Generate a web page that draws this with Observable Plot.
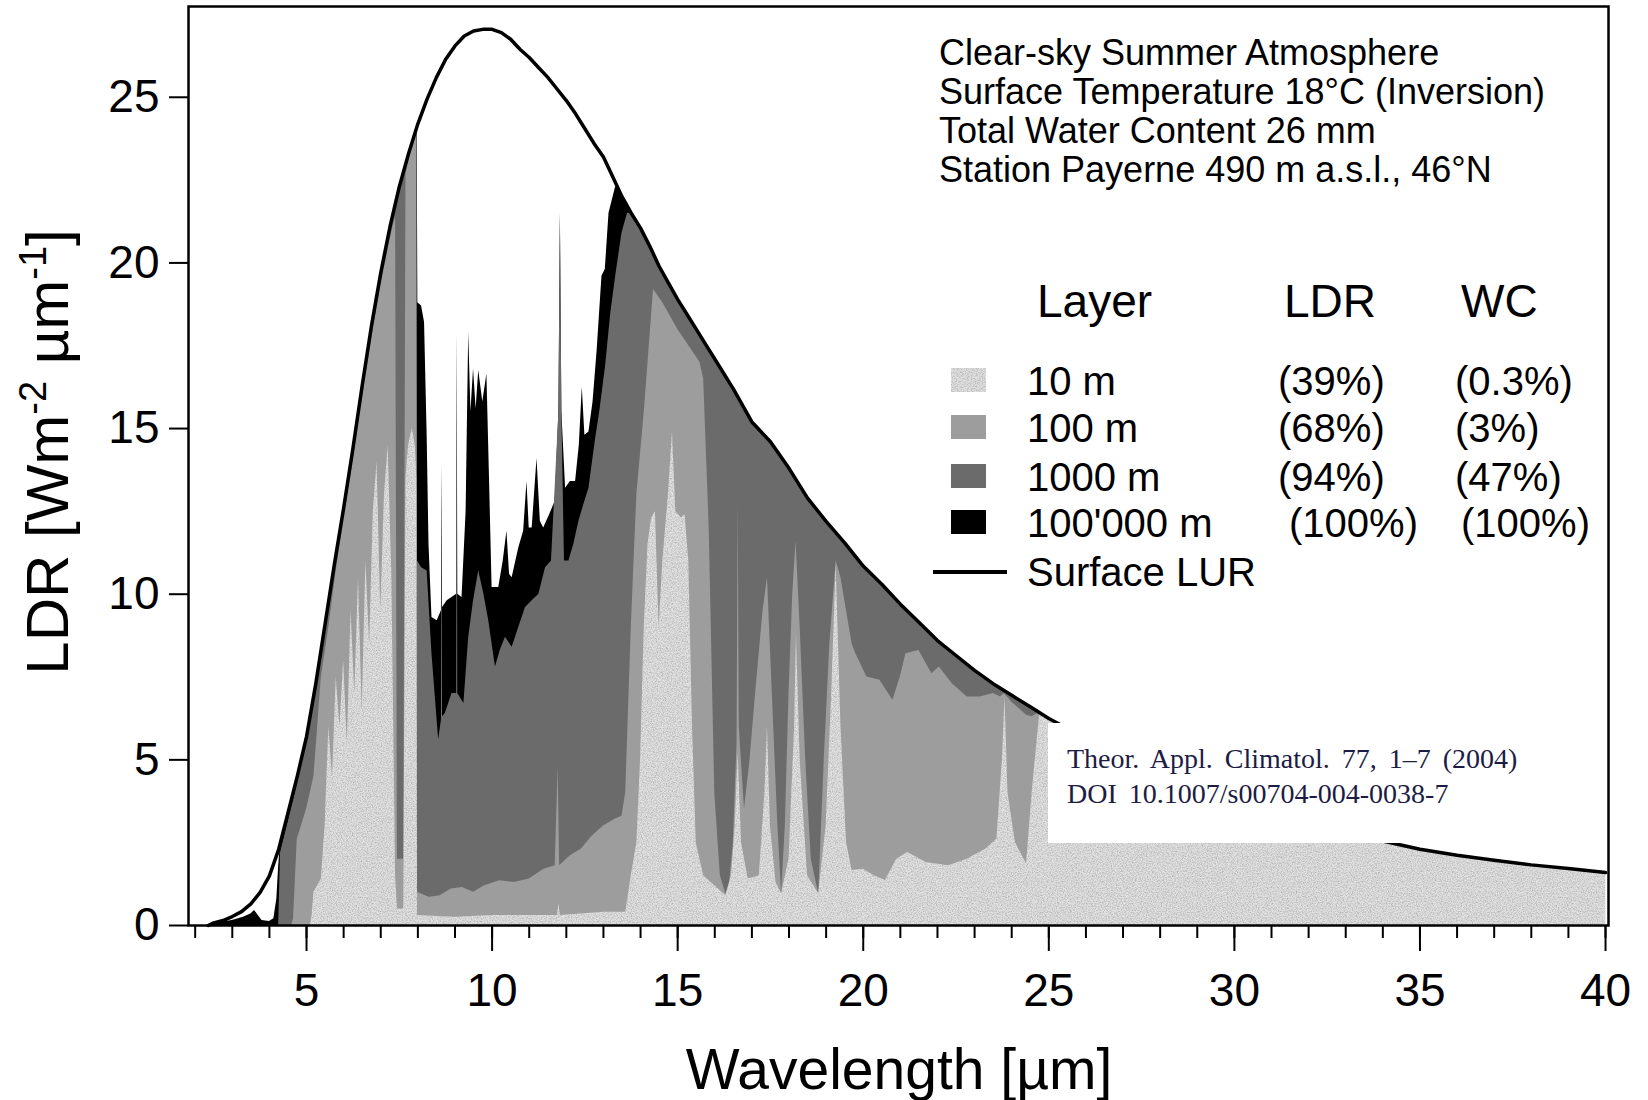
<!DOCTYPE html>
<html><head><meta charset="utf-8">
<script src="https://cdn.jsdelivr.net/npm/d3@7"></script>
<script src="https://cdn.jsdelivr.net/npm/@observablehq/plot@0.6"></script>
<style>
body{margin:0;background:#fff;}
#wrap{position:relative;width:1648px;height:1100px;}
</style></head><body><div id="wrap"></div>
<script>
// ---- Data: [wavelength µm, LDR W m^-2 µm^-1] ----
const lur = [[2.35,0],[2.5,0.08],[2.75,0.15],[3.0,0.27],[3.25,0.42],[3.5,0.65],[3.75,1.0],[4.0,1.5],[4.25,2.3],[4.5,3.4],[4.75,4.5],[5.0,5.7],[5.25,7.3],[5.5,9.1],[5.75,10.9],[6.0,12.6],[6.25,14.4],[6.5,16.3],[6.75,18.1],[7.0,19.7],[7.25,21.1],[7.5,22.3],[7.75,23.3],[8.0,24.2],[8.25,24.95],[8.5,25.6],[8.75,26.15],[9.0,26.55],[9.25,26.85],[9.5,27.0],[9.75,27.05],[10.0,27.05],[10.25,26.95],[10.5,26.75],[10.75,26.45],[11.0,26.2],[11.25,25.9],[11.5,25.6],[11.75,25.25],[12.0,24.9],[12.25,24.5],[12.5,24.05],[12.75,23.6],[13.0,23.2],[13.25,22.6],[13.5,22.0],[13.75,21.5],[14.0,21.05],[14.25,20.5],[14.5,19.9],[14.75,19.4],[15.0,18.9],[15.25,18.45],[15.5,18.0],[15.75,17.55],[16.0,17.1],[16.5,16.2],[17.0,15.2],[17.5,14.6],[18.0,13.8],[18.5,12.9],[19.0,12.2],[19.5,11.55],[20.0,10.85],[20.5,10.3],[21.0,9.7],[21.5,9.15],[22.0,8.6],[22.5,8.15],[23.0,7.7],[23.5,7.3],[24.0,6.95],[24.5,6.6],[25.0,6.25],[26,5.65],[27,5.1],[28,4.6],[29,4.15],[30,3.75],[31,3.4],[32,3.1],[33,2.8],[34,2.55],[35,2.3],[36,2.12],[37,1.97],[38,1.83],[39,1.72],[40,1.6]];

const layer100000 = [[2.35,0],[2.5,0.06],[3.0,0.15],[3.3,0.25],[3.5,0.35],[3.6,0.45],[3.7,0.3],[3.8,0.15],[4.0,0.12],[4.12,0.2],[4.2,0.8],[4.25,1.8],[4.3,2.5],[4.5,3.4],[4.75,4.5],[5.0,5.7],[5.25,7.3],[5.5,9.1],[5.75,10.9],[6.0,12.6],[6.25,14.4],[6.5,16.3],[6.75,18.1],[7.0,19.7],[7.25,21.1],[7.5,22.3],[7.75,23.3],[7.98,24.15],[8.0,18.8],[8.1,18.7],[8.18,18.2],[8.25,14.8],[8.3,11.5],[8.38,9.3],[8.52,9.2],[8.635,9.5],[8.65,13.9],[8.665,9.6],[8.79,9.8],[8.92,9.9],[9.045,10.0],[9.06,17.9],[9.075,10.0],[9.19,9.9],[9.3,12.5],[9.37,17.9],[9.43,15.5],[9.5,16.8],[9.57,15.6],[9.64,16.75],[9.75,15.8],[9.86,16.65],[9.93,13.5],[10.0,10.2],[10.18,10.2],[10.3,11.0],[10.4,11.9],[10.47,10.6],[10.54,10.5],[10.72,11.4],[10.85,11.9],[10.94,13.4],[11.0,12.0],[11.08,12.0],[11.21,14.1],[11.3,12.2],[11.39,12.0],[11.55,12.4],[11.7,12.8],[11.8,15.5],[11.84,21.5],[11.88,15.5],[11.98,13.2],[12.11,13.4],[12.25,13.4],[12.35,14.5],[12.43,16.25],[12.5,14.8],[12.61,14.9],[12.72,15.8],[12.83,17.35],[12.96,19.6],[13.05,19.8],[13.15,21.5],[13.33,22.3],[13.45,22.2],[13.6,21.75],[13.75,21.5],[14.0,21.05],[14.25,20.5],[14.5,19.9],[14.75,19.4],[15.0,18.9],[15.25,18.45],[15.5,18.0],[15.75,17.55],[16.0,17.1],[16.5,16.2],[17.0,15.2],[17.5,14.6],[18.0,13.8],[18.5,12.9],[19.0,12.2],[19.5,11.55],[20.0,10.85],[20.5,10.3],[21.0,9.7],[21.5,9.15],[22.0,8.6],[22.5,8.15],[23.0,7.7],[23.5,7.3],[24.0,6.95],[24.5,6.6],[25.0,6.25],[26,5.65],[27,5.1],[28,4.6],[29,4.15],[30,3.75],[31,3.4],[32,3.1],[33,2.8],[34,2.55],[35,2.3],[36,2.12],[37,1.97],[38,1.83],[39,1.72],[40,1.6]];

const layer1000 = [[2.35,0],[4.25,0],[4.3,2.2],[4.5,3.1],[4.75,4.25],[5.0,5.7],[5.25,7.3],[5.5,9.1],[5.75,10.9],[6.0,12.6],[6.25,14.4],[6.5,16.3],[6.75,18.1],[7.0,19.7],[7.25,21.1],[7.5,22.3],[7.75,23.3],[7.97,24.1],[7.99,11.0],[8.1,10.8],[8.25,10.7],[8.38,8.2],[8.56,5.6],[8.635,6.2],[8.65,13.9],[8.665,6.3],[8.74,6.4],[8.92,7.0],[9.045,7.0],[9.06,17.9],[9.075,7.0],[9.24,6.7],[9.37,8.7],[9.5,9.8],[9.64,10.7],[9.78,10.0],[9.91,9.2],[10.09,7.8],[10.22,8.3],[10.36,8.7],[10.54,8.4],[10.72,9.0],[10.9,9.6],[11.08,9.8],[11.26,10.0],[11.44,10.8],[11.6,11.0],[11.8,15.5],[11.84,21.5],[11.88,15.5],[11.95,11.0],[12.07,11.0],[12.2,11.5],[12.34,12.2],[12.47,12.7],[12.61,13.2],[12.79,14.7],[12.9,15.5],[13.06,16.9],[13.2,18.5],[13.33,19.6],[13.5,20.9],[13.65,21.5],[13.75,21.5],[14.0,21.05],[14.25,20.5],[14.5,19.9],[14.75,19.4],[15.0,18.9],[15.25,18.45],[15.5,18.0],[15.75,17.55],[16.0,17.1],[16.5,16.2],[17.0,15.2],[17.5,14.6],[18.0,13.8],[18.5,12.9],[19.0,12.2],[19.5,11.55],[20.0,10.85],[20.5,10.3],[21.0,9.7],[21.5,9.15],[22.0,8.6],[22.5,8.15],[23.0,7.7],[23.5,7.3],[24.0,6.95],[24.5,6.6],[25.0,6.25],[26,5.65],[27,5.1],[28,4.6],[29,4.15],[30,3.75],[31,3.4],[32,3.1],[33,2.8],[34,2.55],[35,2.3],[36,2.12],[37,1.97],[38,1.83],[39,1.72],[40,1.6]];

const layer100 = [[2.35,0],[4.6,0],[4.65,0.2],[4.75,2.6],[5.0,3.5],[5.2,4.5],[5.4,7.5],[5.6,9.0],[5.8,10.7],[6.0,12.2],[6.25,14.0],[6.5,15.9],[6.75,17.7],[7.0,19.3],[7.25,20.7],[7.4,21.4],[7.45,2.0],[7.62,2.0],[7.68,22.7],[7.8,23.3],[7.97,24.0],[7.99,1.0],[8.3,0.85],[8.6,0.9],[8.9,1.1],[9.2,1.15],[9.5,1.0],[9.8,1.2],[10.2,1.35],[10.6,1.3],[11.0,1.4],[11.4,1.7],[11.7,1.8],[11.78,4.8],[11.82,1.8],[12.1,2.1],[12.4,2.3],[12.7,2.7],[13.0,3.0],[13.3,3.2],[13.5,3.3],[13.6,4.0],[13.75,9.0],[13.9,13.0],[14.1,15.5],[14.35,19.2],[14.6,18.8],[15.0,18.0],[15.3,17.5],[15.6,17.0],[15.7,16.5],[15.85,12.0],[16.0,4.0],[16.15,1.5],[16.3,0.95],[16.4,1.3],[16.5,2.5],[16.6,5.5],[16.63,12.8],[16.66,6.0],[16.8,3.5],[16.95,5],[17.1,7],[17.3,9.5],[17.42,10.5],[17.55,7],[17.7,3],[17.8,0.95],[17.9,3],[18.0,7],[18.1,10],[18.19,11.6],[18.3,9],[18.45,5],[18.6,2],[18.8,0.95],[18.95,5],[19.1,8.5],[19.27,11.0],[19.4,10.5],[19.55,9.5],[19.7,8.5],[19.8,8.2],[20.1,7.5],[20.45,7.4],[20.8,6.8],[21.0,7.5],[21.15,8.2],[21.5,8.3],[21.85,7.6],[22.05,7.8],[22.4,7.3],[22.8,6.9],[23.15,6.9],[23.5,7.0],[23.7,6.9],[23.8,7.0],[24.0,6.75],[24.2,6.55],[24.4,6.35],[24.55,6.3],[24.7,6.4],[25.0,6.25],[26,5.65],[27,5.1],[28,4.6],[29,4.15],[30,3.75],[31,3.4],[32,3.1],[33,2.8],[34,2.55],[35,2.3],[36,2.12],[37,1.97],[38,1.83],[39,1.72],[40,1.6]];

const layer10 = [[2.35,0],[5.1,0],[5.15,0.3],[5.2,1.0],[5.3,1.2],[5.4,1.4],[5.5,3],[5.6,6],[5.7,4.5],[5.8,7.5],[5.9,6],[6.0,8],[6.1,5.5],[6.2,9.5],[6.3,7],[6.4,10.5],[6.5,6.5],[6.6,11],[6.7,8.5],[6.8,12.5],[6.9,14],[7.0,9.5],[7.1,13],[7.2,14.5],[7.3,10.5],[7.4,1.5],[7.45,0.5],[7.62,0.5],[7.68,13.5],[7.75,14.5],[7.85,15],[7.93,14.5],[7.97,13.5],[7.99,0.3],[9,0.25],[10,0.3],[11,0.3],[11.76,0.3],[11.8,0.65],[11.84,0.3],[13.0,0.4],[13.6,0.4],[13.75,1.5],[13.9,2.5],[14.0,5],[14.1,9],[14.2,11.5],[14.3,12.3],[14.4,12.5],[14.5,9],[14.6,11],[14.75,13],[14.86,14.9],[14.95,12.5],[15.1,12.3],[15.2,12.4],[15.3,11],[15.4,6],[15.5,2.5],[15.7,1.5],[16.0,1.2],[16.3,0.9],[16.45,1.5],[16.55,3],[16.63,5.2],[16.72,2.5],[16.9,1.4],[17.2,1.5],[17.35,4],[17.42,6],[17.5,3],[17.65,1.3],[17.8,0.95],[18.0,2],[18.15,6],[18.2,8.8],[18.3,5],[18.5,1.5],[18.8,0.95],[19.0,3],[19.15,7],[19.27,10.9],[19.4,6],[19.55,2.5],[19.7,1.66],[20.0,1.7],[20.3,1.5],[20.6,1.36],[20.9,2.0],[21.2,2.2],[21.7,1.9],[22.3,1.8],[22.8,2.0],[23.3,2.3],[23.6,2.6],[23.75,5],[23.82,6.9],[23.9,4],[24.1,2.5],[24.4,1.86],[24.55,4],[24.75,6.35],[25.0,6.25],[26,5.65],[27,5.1],[28,4.6],[29,4.15],[30,3.75],[31,3.4],[32,3.1],[33,2.8],[34,2.55],[35,2.3],[36,2.12],[37,1.97],[38,1.83],[39,1.72],[40,1.6]];

// ---- Ticks, labels, legend text ----
const xMajorTicks = [5,10,15,20,25,30,35,40];
const xMinorTicks = [2,3,4,5,6,7,8,9,10,11,12,13,14,15,16,17,18,19,20,21,22,23,24,25,26,27,28,29,30,31,32,33,34,35,36,37,38,39,40];
const yTicks = [0,5,10,15,20,25];
const layerNames = ["10 m","100 m","1000 m","100'000 m"];
const layerLDR = ["(39%)","(68%)","(94%)","(100%)"];
const layerWC = ["(0.3%)","(3%)","(47%)","(100%)"];
const layerColors = ["#e1e1e1","#9d9d9d","#6b6b6b","#000000"];
const infoLines = ["Clear-sky Summer Atmosphere","Surface Temperature 18°C (Inversion)","Total Water Content 26 mm","Station Payerne 490 m a.s.l., 46°N"];
const citeLines = ["Theor. Appl. Climatol. 77, 1–7 (2004)","DOI 10.1007/s00704-004-0038-7"];

const FONT = "'Liberation Sans', Arial, Helvetica, sans-serif";
const px = d => d[0], py = d => d[1];

const chart = Plot.plot({
  width: 1648, height: 1100,
  marginLeft: 188, marginRight: 40, marginTop: 6, marginBottom: 175,
  style: {fontFamily: FONT, fontSize: "45px", color: "#000", background: "#fff", overflow: "visible"},
  x: {domain: [1.82, 40.08]},
  y: {domain: [0, 27.74]},
  marks: [
    Plot.areaY(layer100000, {x: px, y: py, fill: layerColors[3]}),
    Plot.areaY(layer1000, {x: px, y: py, fill: layerColors[2]}),
    Plot.areaY(layer100, {x: px, y: py, fill: layerColors[1]}),
    Plot.areaY(layer10, {x: px, y: py, fill: "url(#lightTex)"}),
    Plot.line(lur, {x: px, y: py, stroke: "#000", strokeWidth: 3.5}),
    Plot.frame({stroke: "#000", strokeWidth: 2.5}),
    Plot.axisX({ticks: xMinorTicks, tickSize: 13, tickFormat: () => "", label: null, strokeWidth: 2}),
    Plot.axisX({ticks: xMajorTicks, tickSize: 26, tickPadding: 22, fontSize: 46, label: null, strokeWidth: 2}),
    Plot.axisY({ticks: yTicks, tickSize: 19, tickPadding: 10, fontSize: 46, label: null, strokeWidth: 2})
  ]
});
document.getElementById("wrap").appendChild(chart);

// ---- texture for the 10 m layer + annotations ----
const svg = d3.select(chart);
const defs = svg.insert("defs", ":first-child");
const flt = defs.append("filter").attr("id","grain").attr("x",0).attr("y",0).attr("width","100%").attr("height","100%");
flt.append("feTurbulence").attr("type","fractalNoise").attr("baseFrequency",0.8).attr("numOctaves",2).attr("seed",7).attr("result","n");
flt.append("feColorMatrix").attr("in","n").attr("type","matrix").attr("values","0 0 0 0 0  0 0 0 0 0  0 0 0 0 0  0.45 0 0 0 -0.17");
const pat = defs.append("pattern").attr("id","lightTex").attr("patternUnits","userSpaceOnUse").attr("width",300).attr("height",300);
pat.append("rect").attr("width",300).attr("height",300).attr("fill",layerColors[0]);
pat.append("rect").attr("width",300).attr("height",300).attr("filter","url(#grain)");

const ann = svg.append("g").attr("font-family", FONT).attr("fill", "#000").attr("text-anchor", "start");
infoLines.forEach((t, i) => ann.append("text").attr("x", 939).attr("y", 65 + i * 39).attr("font-size", 36).text(t));

const hdrY = 317;
ann.append("text").attr("x", 1037).attr("y", hdrY).attr("font-size", 46).text("Layer");
ann.append("text").attr("x", 1284).attr("y", hdrY).attr("font-size", 46).text("LDR");
ann.append("text").attr("x", 1461).attr("y", hdrY).attr("font-size", 46).text("WC");
const rowBase = [395, 442, 491, 537];
layerNames.forEach((n, i) => {
  ann.append("rect").attr("x", 951).attr("y", rowBase[i] - 27).attr("width", 35).attr("height", 24)
     .attr("fill", i === 0 ? "url(#lightTex)" : layerColors[i]);
  ann.append("text").attr("x", 1027).attr("y", rowBase[i]).attr("font-size", 40).text(n);
  ann.append("text").attr("x", i === 3 ? 1289 : 1278).attr("y", rowBase[i]).attr("font-size", 40).text(layerLDR[i]);
  ann.append("text").attr("x", i === 3 ? 1461 : 1455).attr("y", rowBase[i]).attr("font-size", 40).text(layerWC[i]);
});
ann.append("line").attr("x1", 933).attr("x2", 1007).attr("y1", 572).attr("y2", 572).attr("stroke", "#000").attr("stroke-width", 4);
ann.append("text").attr("x", 1027).attr("y", 586).attr("font-size", 40).text("Surface LUR");

// axis titles
ann.append("text").attr("x", 899).attr("y", 1089).attr("text-anchor", "middle").attr("font-size", 57).text("Wavelength [µm]");
const yl = ann.append("text").attr("transform", "translate(68,452) rotate(-90)").attr("text-anchor", "middle").attr("font-size", 60);
yl.append("tspan").text("LDR [Wm");
yl.append("tspan").attr("dy", -22).attr("font-size", 38).text("-2");
yl.append("tspan").attr("dy", 22).text(" µm");
yl.append("tspan").attr("dy", -22).attr("font-size", 38).text("-1");
yl.append("tspan").attr("dy", 22).text("]");

// citation box
const cite = svg.append("g").attr("text-anchor", "start");
cite.append("rect").attr("x", 1048).attr("y", 723).attr("width", 556).attr("height", 120).attr("fill", "#fff");
citeLines.forEach((t, i) => cite.append("text").attr("x", 1067).attr("y", 768 + i * 35)
  .attr("font-family", "'Liberation Serif', 'Times New Roman', serif").attr("font-size", 28)
  .attr("word-spacing", 5).attr("fill", "#1c1c44").text(t));
</script></body></html>
